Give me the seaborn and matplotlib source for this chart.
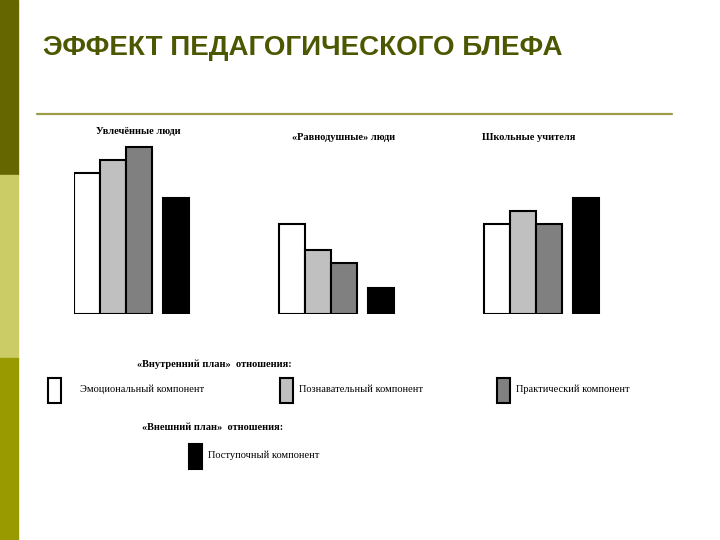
import matplotlib
matplotlib.use("Agg")
import matplotlib.pyplot as plt
from matplotlib.patches import Rectangle
from matplotlib.lines import Line2D
import seaborn as sns
import pandas as pd

# ---- data ----
groups = ['Увлечённые люди', '«Равнодушные» люди', 'Школьные учителя']
components = ['Эмоциональный компонент', 'Познавательный компонент',
              'Практический компонент', 'Поступочный компонент']
emotional = [11, 7, 7]
cognitive = [12, 5, 8]
practical = [13, 4, 7]
behavioral = [9, 2, 9]
series = [emotional, cognitive, practical, behavioral]
colors = ['#ffffff', '#c0c0c0', '#808080', '#000000']

title = 'ЭФФЕКТ ПЕДАГОГИЧЕСКОГО БЛЕФА'
inner_label = '«Внутренний план»  отношения:'
outer_label = '«Внешний план»  отношения:'

sns.set_theme(style="white")
plt.rcParams['font.family'] = ['Liberation Serif', 'DejaVu Serif']
plt.rcParams['text.color'] = 'black'

W, H = 720, 540
fig = plt.figure(figsize=(7.2, 5.4), dpi=100)

def fx(px):
    return px / W

def fy(py):
    return 1 - py / H

# sidebar
for (y0, y1, c) in [(0, 175, '#666600'), (175, 358, '#cccc66'), (358, 540, '#999900')]:
    fig.patches.append(Rectangle((0, fy(y1)), fx(18), (y1 - y0) / H,
                                 transform=fig.transFigure, color=c, zorder=0))

# title and rule
fig.text(fx(43), fy(48), title, fontsize=20, fontweight='bold', color='#4d5700',
         family=['Liberation Sans', 'DejaVu Sans'], va='center', ha='left')
fig.add_artist(Line2D([fx(37), fx(672)], [fy(114), fy(114)], color='#9c9c48',
                      linewidth=1.6, transform=fig.transFigure))

# ---- bars ----
rows = []
group_step, bar_w, gap = 205, 26, 11
for gi, g in enumerate(groups):
    for ci, comp in enumerate(components):
        pos = gi * group_step + ci * bar_w + bar_w / 2 + (gap if ci == 3 else 0)
        rows.append({'group': g, 'component': comp, 'value': series[ci][gi], 'pos': pos})
df = pd.DataFrame(rows)

ax = fig.add_axes([fx(74), fy(314), fx(527), 180 / H])
sns.barplot(data=df, x='pos', y='value', hue='component', hue_order=components,
            palette=colors, native_scale=True, dodge=False, width=1.0,
            saturation=1, edgecolor='black', linewidth=1.5, legend=False, ax=ax)
ax.set_xlim(0, 527)
ax.set_ylim(0, 14)
ax.axis('off')

# group titles
group_title_pos = [(138, 131), (344, 138), (529, 138)]
for g, (x, y) in zip(groups, group_title_pos):
    fig.text(fx(x), fy(y), g, fontsize=7.5, fontweight='bold', ha='center', va='center')

# ---- legend ----
fig.text(fx(214), fy(364), inner_label, fontsize=7.5, fontweight='bold', ha='center', va='center')
fig.text(fx(213), fy(427), outer_label, fontsize=7.5, fontweight='bold', ha='center', va='center')

legend_boxes = [(48, 378), (280, 378), (497, 378), (189, 444)]
for comp, col, (x, y) in zip(components, colors, legend_boxes):
    fig.patches.append(Rectangle((fx(x), fy(y + 25)), fx(13), 25 / H,
                                 transform=fig.transFigure, facecolor=col,
                                 edgecolor='black', linewidth=1.5))
    fig.text(fx(x + 19 if col != '#ffffff' else x + 32), fy(y + 11), comp,
             fontsize=7.5, ha='left', va='center')

fig.savefig('out.png', dpi=100)
